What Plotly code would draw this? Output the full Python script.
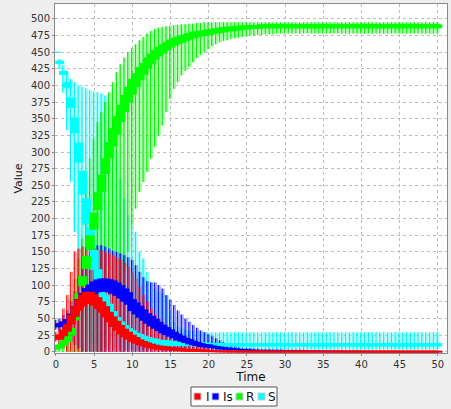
import plotly.graph_objects as go

TIME = [0, 0.5, 1, 1.5, 2, 2.5, 3, 3.5, 4, 4.5,
        5, 5.5, 6, 6.5, 7, 7.5, 8, 8.5, 9, 9.5,
        10, 10.5, 11, 11.5, 12, 12.5, 13, 13.5, 14, 14.5,
        15, 15.5, 16, 16.5, 17, 17.5, 18, 18.5, 19, 19.5,
        20, 20.5, 21, 21.5, 22, 22.5, 23, 23.5, 24, 24.5,
        25, 25.5, 26, 26.5, 27, 27.5, 28, 28.5, 29, 29.5,
        30, 30.5, 31, 31.5, 32, 32.5, 33, 33.5, 34, 34.5,
        35, 35.5, 36, 36.5, 37, 37.5, 38, 38.5, 39, 39.5,
        40, 40.5, 41, 41.5, 42, 42.5, 43, 43.5, 44, 44.5,
        45, 45.5, 46, 46.5, 47, 47.5, 48, 48.5, 49, 49.5,
        50]

# ---------------- S (susceptible) ----------------
S_MEAN = [450, 435, 419, 401, 374, 340, 299, 254, 211, 172,
          138, 110, 90, 74, 62, 52, 44, 38, 33, 29,
          26, 23, 21, 19, 17, 16, 15, 14, 13.5, 13,
          12.5, 12.2, 12, 11.8, 11.6, 11.4, 11.2, 11, 10.9, 10.8,
          10.7, 10.6, 10.6, 10.5, 10.5, 10.5, 10.5, 10.5, 10.5, 10.5,
          10.5, 10.5, 10.5, 10.5, 10.5, 10.5, 10.5, 10.5, 10.5, 10.5,
          10.5, 10.5, 10.5, 10.5, 10.5, 10.5, 10.5, 10.5, 10.5, 10.5,
          10.5, 10.5, 10.5, 10.5, 10.5, 10.5, 10.5, 10.5, 10.5, 10.5,
          10.5, 10.5, 10.5, 10.5, 10.5, 10.5, 10.5, 10.5, 10.5, 10.5,
          10.5, 10.5, 10.5, 10.5, 10.5, 10.5, 10.5, 10.5, 10.5, 10.5,
          10.5]
S_HALF = [0.8, 2.5, 3, 4.5, 8, 12, 15, 18, 20, 16,
          15, 14, 13, 11, 10, 9, 8, 7.5, 7, 6.5,
          6, 5.5, 5.5, 5, 5, 4.5, 4.5, 4, 4, 4,
          3.5, 3.5, 3.5, 3.5, 3, 3, 3, 3, 3, 3,
          2.5, 2.5, 2.5, 2.5, 2.5, 2.5, 2.5, 2.5, 2.5, 2.5,
          2.5, 2.5, 2.5, 2.5, 2.5, 2.5, 2.5, 2.5, 2.5, 2.5,
          2.5, 2.5, 2.5, 2.5, 2.5, 2.5, 2.5, 2.5, 2.5, 2.5,
          2.5, 2.5, 2.5, 2.5, 2.5, 2.5, 2.5, 2.5, 2.5, 2.5,
          2.5, 2.5, 2.5, 2.5, 2.5, 2.5, 2.5, 2.5, 2.5, 2.5,
          2.5, 2.5, 2.5, 2.5, 2.5, 2.5, 2.5, 2.5, 2.5, 2.5,
          2.5]
S_LO = [450, 425, 389, 333, 255, 180, 100, 50, 25, 15,
        10, 8, 6, 5, 4, 4, 3, 3, 3, 3,
        3, 3, 3, 3, 3, 3, 3, 3, 3, 3,
        3, 3, 3, 3, 3, 3, 3, 3, 3, 3,
        3, 3, 3, 3, 3, 3, 3, 3, 3, 3,
        3, 3, 3, 3, 3, 3, 3, 3, 3, 3,
        3, 3, 3, 3, 3, 3, 3, 3, 3, 3,
        3, 3, 3, 3, 3, 3, 3, 3, 3, 3,
        3, 3, 3, 3, 3, 3, 3, 3, 3, 3,
        3, 3, 3, 3, 3, 3, 3, 3, 3, 3,
        3]
S_HI = [450, 440, 431, 420, 410, 405, 400, 398, 396, 393,
        391, 390, 388, 385, 370, 340, 300, 260, 230, 205,
        190, 180, 150, 140, 120, 105, 95, 90, 87, 84,
        60, 45, 38, 35, 33, 32, 31, 30, 30, 29,
        29, 29, 29, 29, 29, 29, 29, 29, 29, 29,
        29, 29, 29, 29, 29, 29, 29, 29, 29, 29,
        29, 29, 29, 29, 29, 29, 29, 29, 29, 29,
        29, 29, 29, 29, 29, 29, 29, 29, 29, 29,
        29, 29, 29, 29, 29, 29, 29, 29, 29, 29,
        29, 29, 29, 29, 29, 29, 29, 29, 29, 29,
        29]

# ---------------- R (recovered) ----------------
R_MEAN = [5, 8, 13, 19, 30, 55, 80, 106, 134, 164,
          196, 226, 253, 279, 303, 322, 340, 358, 373, 386,
          398, 408, 418, 425, 434, 440, 446, 451, 455, 459,
          463, 466, 468, 470, 472, 474, 476, 477, 478, 479,
          480, 481, 482, 483, 484, 485, 485, 486, 486, 487,
          487, 488, 488, 488, 489, 489, 489, 489, 489, 489,
          489, 489, 489, 489, 489, 489, 489, 489, 489, 489,
          489, 489, 489, 489, 489, 489, 489, 489, 489, 489,
          489, 489, 489, 489, 489, 489, 489, 489, 489, 489,
          489, 489, 489, 489, 489, 489, 489, 489, 489, 489,
          489]
R_HALF = [2, 3, 4, 5, 6, 8, 8, 7.5, 9.5, 11,
          13, 13.5, 13, 12, 12, 14, 14, 13, 13, 12,
          12, 10.5, 10, 9, 8.5, 8, 7.5, 7, 7, 6.5,
          6, 6, 5.5, 5.5, 5, 5, 5, 4.5, 4.5, 4.5,
          4.5, 4, 4, 4, 4, 3.5, 3.5, 3.5, 3.5, 3.5,
          3, 3, 3, 3, 3, 3, 3, 3, 3, 3,
          3, 3, 3, 3, 3, 3, 3, 3, 3, 3,
          3, 3, 3, 3, 3, 3, 3, 3, 3, 3,
          3, 3, 3, 3, 3, 3, 3, 3, 3, 3,
          3, 3, 3, 3, 3, 3, 3, 3, 3, 3,
          3]
R_LO = [0, 0, 0, 0, 0, 0, 0, 0, 0, 0,
        0, 0, 0, 5, 10, 20, 40, 80, 120, 150,
        190, 215, 240, 255, 270, 290, 308, 325, 340, 360,
        380, 395, 405, 415, 422, 428, 435, 441, 446, 450,
        455, 459, 462, 465, 467, 468, 470, 471, 472, 473,
        474, 475, 475, 476, 476, 477, 477, 477, 478, 478,
        478, 478, 478, 478, 478, 478, 478, 478, 478, 478,
        478, 478, 478, 478, 478, 478, 478, 478, 478, 478,
        478, 478, 478, 478, 478, 478, 478, 478, 478, 478,
        478, 478, 478, 478, 478, 478, 478, 478, 478, 478,
        478]
R_HI = [10, 15, 25, 45, 80, 110, 140, 170, 260, 290,
        320, 345, 360, 375, 390, 405, 420, 432, 442, 450,
        456, 462, 468, 473, 478, 482, 485, 487, 488, 489,
        490, 491, 491, 492, 492, 493, 493, 494, 494, 495,
        495, 495, 495, 495, 495, 495, 495, 495, 495, 495,
        495, 495, 495, 495, 495, 495, 495, 495, 495, 495,
        495, 495, 495, 495, 495, 495, 495, 495, 495, 495,
        495, 495, 495, 495, 495, 495, 495, 495, 495, 495,
        495, 495, 495, 495, 495, 495, 495, 495, 495, 495,
        495, 495, 495, 495, 495, 495, 495, 495, 495, 495,
        495]

# ---------------- Is ----------------
IS_MEAN = [39, 40, 42, 45, 52, 62, 72, 80, 87, 92,
           96, 99, 100, 100, 99, 97, 94, 90, 85, 80,
           70, 65, 60, 55, 50, 46, 42, 38, 34, 31,
           28, 25, 22, 19.5, 17, 15, 13, 11.5, 10, 9,
           8.5, 7.5, 6.5, 5.5, 5, 4.5, 4, 3.5, 3, 2.5,
           2.5, 2, 2, 1.5, 1.5, 1.5, 1, 1, 1, 1,
           0.8, 0.8, 0.7, 0.7, 0.6, 0.6, 0.5, 0.5, 0.5, 0.4,
           0.4, 0.4, 0.3, 0.3, 0.3, 0.3, 0.2, 0.2, 0.2, 0.2,
           0.2, 0.2, 0.1, 0.1, 0.1, 0.1, 0.1, 0.1, 0.1, 0.1,
           0.1, 0.1, 0.1, 0.1, 0.1, 0.1, 0.1, 0.1, 0.1, 0.1,
           0.1]
IS_HALF = [2.5, 3, 3.5, 4, 5, 6, 7, 8, 8.5, 9,
           9.5, 9.5, 10, 10, 10, 10, 10, 10, 10, 9.5,
           9, 9, 9, 8.5, 8, 8, 7.5, 7, 6.5, 6,
           5.5, 5, 5, 4.5, 4, 4, 3.5, 3, 3, 2.5,
           2.5, 2, 2, 2, 1.5, 1.5, 1.5, 1.5, 1, 1,
           1, 1, 1, 1, 1, 1, 1, 1, 1, 1,
           1, 1, 1, 1, 1, 1, 1, 1, 1, 1,
           1, 1, 1, 1, 1, 1, 1, 1, 1, 1,
           1, 1, 1, 1, 1, 1, 1, 1, 1, 1,
           1, 1, 1, 1, 1, 1, 1, 1, 1, 1,
           1]
IS_LO = [33, 30, 25, 20, 15, 10, 5, 0, 0, 0,
         0, 0, 0, 0, 0, 0, 0, 0, 0, 0,
         0, 0, 0, 0, 0, 0, 0, 0, 0, 0,
         0, 0, 0, 0, 0, 0, 0, 0, 0, 0,
         0, 0, 0, 0, 0, 0, 0, 0, 0, 0,
         0, 0, 0, 0, 0, 0, 0, 0, 0, 0,
         0, 0, 0, 0, 0, 0, 0, 0, 0, 0,
         0, 0, 0, 0, 0, 0, 0, 0, 0, 0,
         0, 0, 0, 0, 0, 0, 0, 0, 0, 0,
         0, 0, 0, 0, 0, 0, 0, 0, 0, 0,
         0]
IS_HI = [48, 50, 55, 62, 75, 90, 110, 125, 140, 150,
         155, 160, 160, 158, 155, 152, 150, 148, 145, 142,
         138, 130, 120, 112, 106, 104, 104, 100, 95, 85,
         78, 70, 62, 56, 50, 45, 40, 36, 32, 29,
         26, 23, 20, 17, 14, 11, 9, 7.5, 6.5, 5.5,
         5, 5, 4.5, 4.5, 4, 4, 4, 3.5, 3.5, 3.5,
         3, 3, 3, 3, 3, 3, 2.5, 2.5, 2.5, 2.5,
         2, 2, 2, 2, 2, 2, 2, 2, 2, 2,
         1.5, 1.5, 1.5, 1.5, 1.5, 1.5, 1.5, 1.5, 1.5, 1.5,
         1, 1, 1, 1, 1, 1, 1, 1, 1, 1,
         1]

# ---------------- I ----------------
I_MEAN = [21, 22, 28, 36, 48, 60, 70, 77, 81, 81,
          78, 73, 67, 60, 52, 45, 39, 33, 28, 24,
          20, 17, 14, 12, 10, 8.5, 7, 6, 5.5, 5,
          4.5, 4, 3.5, 3, 2.5, 2, 2, 1.5, 1.5, 1.2,
          1, 0.8, 0.6, 0.5, 0.4, 0.3, 0.3, 0.2, 0.2, 0.2,
          0.1, 0.1, 0.1, 0.1, 0.1, 0.1, 0.1, 0.1, 0.1, 0.1,
          0.1, 0.1, 0.1, 0.1, 0.1, 0.1, 0.1, 0.1, 0.1, 0.1,
          0.1, 0.1, 0.1, 0.1, 0.1, 0.1, 0.1, 0.1, 0.1, 0.1,
          0.1, 0.1, 0.1, 0.1, 0.1, 0.1, 0.1, 0.1, 0.1, 0.1,
          0.1, 0.1, 0.1, 0.1, 0.1, 0.1, 0.1, 0.1, 0.1, 0.1,
          0.1]
I_HALF = [3, 4, 5, 6, 7, 8, 8.5, 9, 9, 9,
          9, 9, 8.5, 8.5, 8, 8, 7.5, 7, 6.5, 6,
          5.5, 5, 4.5, 4, 4, 3.5, 3.5, 3, 3, 3,
          2.5, 2.5, 2.5, 2.5, 2, 2, 2, 2, 2, 2,
          1.5, 1.5, 1.5, 1.5, 1.5, 1.5, 1.5, 1.5, 1.5, 1.5,
          1.5, 1.5, 1.5, 1.5, 1.5, 1.5, 1.5, 1.5, 1.5, 1.5,
          1.5, 1.5, 1.5, 1.5, 1.5, 1.5, 1.5, 1.5, 1.5, 1.5,
          1.5, 1.5, 1.5, 1.5, 1.5, 1.5, 1.5, 1.5, 1.5, 1.5,
          1.5, 1.5, 1.5, 1.5, 1.5, 1.5, 1.5, 1.5, 1.5, 1.5,
          1.5, 1.5, 1.5, 1.5, 1.5, 1.5, 1.5, 1.5, 1.5, 1.5,
          1.5]
I_LO = [15, 12, 5, 0, 0, 0, 0, 0, 0, 0,
        0, 0, 0, 0, 0, 0, 0, 0, 0, 0,
        0, 0, 0, 0, 0, 0, 0, 0, 0, 0,
        0, 0, 0, 0, 0, 0, 0, 0, 0, 0,
        0, 0, 0, 0, 0, 0, 0, 0, 0, 0,
        0, 0, 0, 0, 0, 0, 0, 0, 0, 0,
        0, 0, 0, 0, 0, 0, 0, 0, 0, 0,
        0, 0, 0, 0, 0, 0, 0, 0, 0, 0,
        0, 0, 0, 0, 0, 0, 0, 0, 0, 0,
        0, 0, 0, 0, 0, 0, 0, 0, 0, 0,
        0]
I_HI = [30, 45, 65, 85, 120, 150, 155, 158, 158, 156,
        155, 154, 152, 150, 148, 145, 142, 138, 133, 128,
        120, 110, 98, 85, 75, 65, 56, 50, 44, 38,
        32, 28, 24, 20, 17, 15, 13, 11, 9, 8,
        7, 6, 5, 4, 3, 3, 2, 2, 2, 1.5,
        1.5, 1.5, 1, 1, 1, 1, 1, 1, 1, 1,
        0.5, 0.5, 0.5, 0.5, 0.5, 0.5, 0.5, 0.5, 0.5, 0.5,
        0.5, 0.5, 0.5, 0.5, 0.5, 0.5, 0.5, 0.5, 0.5, 0.5,
        0.5, 0.5, 0.5, 0.5, 0.5, 0.5, 0.5, 0.5, 0.5, 0.5,
        0.5, 0.5, 0.5, 0.5, 0.5, 0.5, 0.5, 0.5, 0.5, 0.5,
        0.5]

SERIES_NAMES = ["I", "Is", "R", "S"]
COLORS = {"I": "#ff0000", "Is": "#0000ff", "R": "#00ff00", "S": "#00ffff"}
DARK = {"I": "rgba(255,0,0,0.85)", "Is": "rgba(0,0,255,0.9)",
        "R": "rgba(0,235,0,0.95)", "S": "rgba(0,240,240,0.95)"}
LIGHT = {"I": "rgba(255,30,30,0.55)", "Is": "rgba(70,90,255,0.6)",
         "R": "rgba(110,255,110,0.75)", "S": "rgba(110,255,255,0.75)"}

DATA = {
    "S": (S_MEAN, S_HALF, S_LO, S_HI),
    "R": (R_MEAN, R_HALF, R_LO, R_HI),
    "Is": (IS_MEAN, IS_HALF, IS_LO, IS_HI),
    "I": (I_MEAN, I_HALF, I_LO, I_HI),
}
DRAW_ORDER = ["S", "R", "Is", "I"]
invisible = dict(size=1, color="rgba(0,0,0,0)")


def trimmed(name):
    mean, half, lo, hi = DATA[name]
    n = min(len(TIME), len(mean), len(half), len(lo), len(hi))
    return TIME[:n], mean[:n], half[:n], lo[:n], hi[:n]


fig = go.Figure()

# pass 1: range whiskers for every series
for name in DRAW_ORDER:
    t, mean, half, lo, hi = trimmed(name)
    up = [max(0, h - m) for h, m in zip(hi, mean)]
    dn = [max(0, m - l) for m, l in zip(mean, lo)]
    for dx, col in ((-0.09, DARK[name]), (0.13, LIGHT[name])):
        fig.add_trace(go.Scatter(
            x=[v + dx for v in t], y=mean, mode="markers", marker=invisible,
            error_y=dict(type="data", symmetric=False, array=up, arrayminus=dn,
                         width=0, thickness=1.4, color=col),
            showlegend=False, hoverinfo="skip"))

# pass 2: thick boxes (mean +/- spread)
for name in DRAW_ORDER:
    t, mean, half, lo, hi = trimmed(name)
    fig.add_trace(go.Scatter(
        x=t, y=mean, mode="markers", marker=invisible, name=name,
        error_y=dict(type="data", symmetric=True, array=half,
                     width=0, thickness=9, color=COLORS[name]),
        showlegend=False, hoverinfo="skip"))

# plot-area geometry (pixels) used to place the legend box below the plot
W, H = 451, 409
ML, MR, MT, MB = 55, 4, 4, 56
PW, PH = W - ML - MR, H - MT - MB


def px_x(p):
    return (p - ML) / PW


def px_y(p):
    return (H - MB - p) / PH


LEG_SQ = [194, 212, 236, 258]
LEG_TXT = [204, 221, 244, 266]

shapes = [dict(type="rect", xref="paper", yref="paper",
               x0=px_x(191), x1=px_x(277), y0=px_y(406), y1=px_y(387),
               line=dict(color="#555555", width=1), fillcolor="#ffffff", layer="above")]
annotations = []
for name, sx, tx in zip(SERIES_NAMES, LEG_SQ, LEG_TXT):
    shapes.append(dict(type="rect", xref="paper", yref="paper",
                       x0=px_x(sx), x1=px_x(sx + 7), y0=px_y(400), y1=px_y(393),
                       line=dict(color="#c8c8c8", width=1), fillcolor=COLORS[name],
                       layer="above"))
    annotations.append(dict(text=name, xref="paper", yref="paper",
                            x=px_x(tx), y=px_y(396.5), xanchor="left", yanchor="middle",
                            showarrow=False,
                            font=dict(family="DejaVu Sans", size=12, color="#111111")))

axis_common = dict(
    showgrid=True, gridcolor="#bdbdbd", griddash="dot", gridwidth=1,
    zeroline=False, showline=True, linecolor="#8a8a8a", linewidth=1,
    mirror=True, ticks="outside", ticklen=2, tickcolor="#8a8a8a",
    automargin=False,
    tickfont=dict(family="DejaVu Sans", size=10, color="#333333"),
)

fig.update_layout(
    width=W, height=H,
    margin=dict(l=ML, r=MR, t=MT, b=MB),
    paper_bgcolor="#eeeeee", plot_bgcolor="#ffffff",
    xaxis=dict(range=[-0.12, 51.2], tickmode="linear", tick0=0, dtick=5,
               title=dict(text="Time", standoff=2,
                          font=dict(family="DejaVu Sans", size=12, color="#111111")),
               **axis_common),
    yaxis=dict(range=[-2, 522.5], tickmode="linear", tick0=0, dtick=25,
               title=dict(text="Value", standoff=6,
                          font=dict(family="DejaVu Sans", size=11, color="#111111")),
               **axis_common),
    showlegend=False,
    shapes=shapes,
    annotations=annotations,
)

fig.write_html("out.html", config={"displayModeBar": False},
               post_script="document.body.style.margin='0';")
